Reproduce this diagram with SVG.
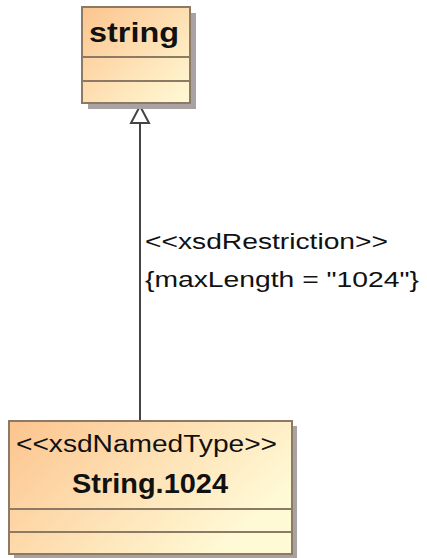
<svg xmlns="http://www.w3.org/2000/svg" width="427" height="558" viewBox="0 0 427 558">
<style>
.box{stroke:#8c7a64;stroke-width:2}
.div{stroke:#8c7a64;stroke-width:2;fill:none}
.shadow{fill:#a8a2a2}
.t{font-family:"Liberation Sans",Arial,sans-serif;fill:#111}
.b{font-weight:bold}
.conn{stroke:#444;stroke-width:2;fill:none}
</style>
<defs>
<linearGradient id="g" x1="0" y1="0" x2="1" y2="1">
<stop offset="0" stop-color="#fcc48e"/>
<stop offset="1" stop-color="#fffad6"/>
</linearGradient>
<linearGradient id="g2" x1="0" y1="0" x2="1" y2="0.5">
<stop offset="0" stop-color="#fcc48e"/>
<stop offset="1" stop-color="#fffad6"/>
</linearGradient>
</defs>
<g id="connectors">
<line class="conn" x1="140" y1="122" x2="140" y2="421"/>
<polygon points="140,106 131,123 149,123" fill="#fff" stroke="#444" stroke-width="2"/>
<text class="t" x="145" y="249" font-size="22" textLength="243" lengthAdjust="spacingAndGlyphs">&lt;&lt;xsdRestriction&gt;&gt;</text>
<text class="t" x="145" y="287" font-size="22" textLength="274" lengthAdjust="spacingAndGlyphs">{maxLength = "1024"}</text>
</g>
<g id="string">
<rect class="shadow" x="88" y="13" width="108" height="96"/>
<rect class="box" x="82" y="7" width="108" height="96" fill="url(#g)"/>
<line class="div" x1="82" y1="57" x2="190" y2="57"/>
<line class="div" x1="82" y1="81" x2="190" y2="81"/>
<text class="t b" x="89" y="42" font-size="27" textLength="90" lengthAdjust="spacingAndGlyphs">string</text>
</g>
<g id="String.1024">
<rect class="shadow" x="14" y="426" width="283" height="133"/>
<rect class="box" x="9" y="421" width="283" height="133" fill="url(#g2)"/>
<line class="div" x1="9" y1="509" x2="292" y2="509"/>
<line class="div" x1="9" y1="532" x2="292" y2="532"/>
<text class="t" x="16" y="452" font-size="23" textLength="261" lengthAdjust="spacingAndGlyphs">&lt;&lt;xsdNamedType&gt;&gt;</text>
<text class="t b" x="72" y="493" font-size="27" textLength="156" lengthAdjust="spacingAndGlyphs">String.1024</text>
</g>
</svg>
